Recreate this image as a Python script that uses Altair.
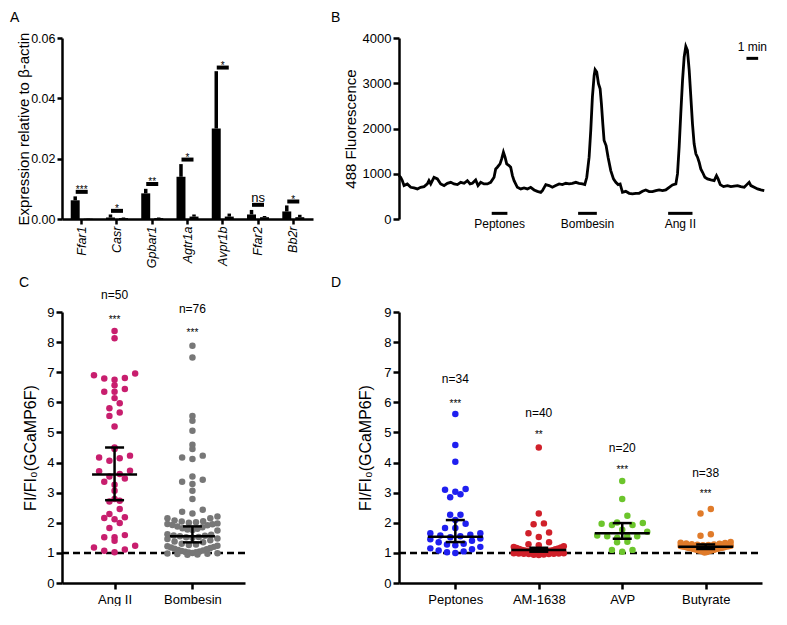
import json
import numpy as np
import pandas as pd
import altair as alt

FONT = "Liberation Sans"

# ---------------- Panel A: qPCR expression ----------------
genes = ["Ffar1", "Casr", "Gpbar1", "Agtr1a", "Avpr1b", "Ffar2", "Bb2r"]
cell_groups = ["positive", "negative"]
pos_mean = [0.0062, 0.0005, 0.0085, 0.0140, 0.0300, 0.0015, 0.0025]
pos_sem = [0.0013, 0.0010, 0.0015, 0.0042, 0.0190, 0.0015, 0.0020]
neg_mean = [0.0001, 0.0003, 0.0003, 0.0008, 0.0008, 0.0006, 0.0006]
neg_sem = [0.0001, 0.0002, 0.0002, 0.0007, 0.0010, 0.0004, 0.0008]
sig_level = [0.0090, 0.0027, 0.0116, 0.0197, 0.0502, 0.0047, 0.0058]
sig_label = ["***", "*", "**", "*", "*", "ns", "*"]

# ---------------- Panel B: fluorescence trace ----------------
trace_t = [0, 0.14, 0.28, 0.43, 0.71, 1.0, 1.28, 1.57, 1.85, 2.14, 2.42, 2.56, 2.71, 2.99, 3.28,
           3.56, 3.85, 4.13, 4.42, 4.70, 4.99, 5.27, 5.56, 5.84, 6.07, 6.27, 6.55, 6.75, 6.98, 7.26,
           7.55, 7.83, 8.12, 8.26, 8.40, 8.63, 8.77, 8.92, 9.06, 9.20, 9.40, 9.54, 9.69, 9.83, 10.11,
           10.40, 10.68, 10.97, 11.25, 11.54, 11.82, 12.11, 12.25, 12.54, 12.82, 13.10, 13.39, 13.68,
           13.96, 14.25, 14.53, 14.81, 15.10, 15.38,
           15.67, 15.87, 16.04, 16.24, 16.38, 16.52, 16.67, 16.75, 16.89, 17.04, 17.18, 17.29, 17.41,
           17.52, 17.69, 17.86, 18.09, 18.32, 18.52, 18.72, 18.89, 19.09, 19.37, 19.66, 19.94, 20.23,
           20.51, 20.80, 21.08, 21.37, 21.65, 21.94, 22.22, 22.51, 22.79, 23.08, 23.36, 23.65, 23.79,
           23.93, 24.07, 24.22, 24.36, 24.50, 24.64, 24.79, 24.93, 25.07, 25.21, 25.36, 25.50, 25.64,
           25.78, 25.93, 26.13, 26.35, 26.64, 26.92, 27.12, 27.26, 27.44, 27.72, 28.06, 28.35, 28.63,
           28.92, 29.20, 29.49, 29.71, 29.91, 30.06, 30.34, 30.63, 30.91, 31.20]
trace_f = [959, 922, 848, 738, 775, 701, 686, 664, 701, 715, 775, 848, 775, 922, 885,
           775, 738, 789, 811, 775, 760, 811, 789, 848, 775, 789, 863, 738, 811, 775,
           775, 811, 922, 1107, 1144, 1218, 1328, 1476, 1365, 1218, 1181, 1144, 959, 848, 701,
           664, 686, 664, 701, 642, 612, 590, 627, 760, 738, 701, 738, 775,
           760, 789, 775, 789, 811, 789,
           775, 760, 922, 1366, 1956, 2694, 3174, 3300, 3247, 2990, 2879, 2548, 2104,
           1735, 1624, 1366, 1070, 886, 812, 760, 775, 590, 612, 568, 554, 568,
           568, 612, 642, 605, 605, 627, 642, 627, 642, 701, 753, 775, 997,
           1587, 2326, 3063, 3580, 3816, 3728, 3285, 2694, 2104, 1661, 1440, 1366,
           1255, 1107, 1033, 922, 886, 864, 849, 959, 886, 760, 716, 738, 716, 727,
           738, 716, 701, 760, 812, 738, 701, 664, 642, 627]
stim_names = ["Peptones", "Bombesin", "Ang II"]
stim_start = [7.92, 15.30, 22.99]
stim_end = [9.26, 16.90, 25.07]
scalebar_start = [29.68]
scalebar_end = [30.68]

# ---------------- Panel C ----------------
c_cats = ["Ang II", "Bombesin"]
c_colors = ["#c81e6e", "#777777"]
angII_vals = [8.37, 8.13, 6.96, 6.90, 6.81, 6.79, 6.75, 6.57, 6.44, 6.35, 6.35, 6.14, 5.97, 5.80,
              5.66, 5.55, 5.20, 4.50, 4.45, 4.23, 4.17, 4.14, 4.06, 3.73, 3.71, 3.62, 3.54, 3.47,
              3.36, 3.26, 3.06, 2.79, 2.73, 2.71, 2.46, 2.29, 2.18, 2.16, 2.12, 1.99, 1.83, 1.59,
              1.52, 1.52, 1.40, 1.24, 1.18, 1.11, 1.07, 1.02]
bombesin_vals = [7.88, 7.49, 5.55, 5.39, 5.06, 4.59, 4.45, 4.23, 4.17, 4.12, 3.54, 3.43, 3.36,
                 3.29, 3.06, 2.79, 2.43, 2.37, 2.31, 2.21, 2.15, 2.15,
                 2.08, 2.05, 2.04, 2.02, 2.00, 1.98, 1.96, 1.95, 1.93, 1.92,
                 1.88, 1.85, 1.82, 1.80, 1.78, 1.76, 1.74,
                 1.62, 1.60, 1.58, 1.57, 1.55, 1.53, 1.52, 1.50, 1.48, 1.46,
                 1.42, 1.38, 1.35,
                 1.30, 1.28, 1.26, 1.24, 1.22, 1.20, 1.18, 1.16, 1.14, 1.12,
                 1.10, 1.08, 1.06, 1.05, 1.04, 1.02, 1.01, 1.00, 0.99, 0.98, 0.97, 0.96, 0.95, 0.94]
c_mean = [3.60, 1.55]
c_lo = [2.75, 1.35]
c_hi = [4.50, 1.88]
c_n = ["n=50", "n=76"]
c_n_y = [9.55, 9.10]
c_star = ["***", "***"]
c_star_y = [8.85, 8.40]

# ---------------- Panel D ----------------
d_cats = ["Peptones", "AM-1638", "AVP", "Butyrate"]
d_colors = ["#1f1ff0", "#d0202a", "#6cc52c", "#e07b2a"]
peptones_vals = [5.61, 4.58, 4.03, 3.12, 3.10, 3.03, 2.95, 2.85, 2.27, 2.27, 2.09, 1.97, 1.83, 1.83,
                 1.65, 1.65, 1.60, 1.58, 1.55, 1.52, 1.48, 1.45, 1.40, 1.35, 1.30, 1.28, 1.25, 1.20,
                 1.15, 1.12, 1.08, 1.05, 1.02, 1.00]
am1638_vals = [4.50, 2.31, 1.98, 1.95, 1.68, 1.65, 1.53, 1.35, 1.29,
               1.25, 1.22, 1.20, 1.18, 1.16, 1.15, 1.13, 1.12, 1.10, 1.09, 1.08, 1.07, 1.06, 1.05,
               1.04, 1.03, 1.02, 1.01, 1.00, 1.00, 0.99, 0.99, 0.98, 0.98, 0.97, 0.97, 0.96, 0.96,
               0.95, 0.94, 0.93]
avp_vals = [3.39, 2.79, 2.23, 2.01, 1.99, 1.97, 1.93, 1.93, 1.77, 1.70, 1.58, 1.55, 1.55, 1.55,
            1.50, 1.37, 1.35, 1.10, 1.10, 1.04]
butyrate_vals = [2.46, 2.31, 1.62, 1.57, 1.36, 1.34, 1.33, 1.31, 1.30, 1.29, 1.28, 1.27, 1.26,
                 1.25, 1.24, 1.23, 1.22, 1.21, 1.21, 1.20, 1.19, 1.18, 1.17, 1.16, 1.16, 1.15,
                 1.14, 1.13, 1.12, 1.11, 1.10, 1.09, 1.08, 1.07, 1.06, 1.05, 1.03, 1.01]
d_mean = [1.54, 1.10, 1.65, 1.20]
d_lo = [1.36, 1.04, 1.47, 1.13]
d_hi = [2.09, 1.17, 1.99, 1.28]
d_n = ["n=34", "n=40", "n=20", "n=38"]
d_n_y = [6.79, 5.63, 4.48, 3.65]
d_star = ["***", "**", "***", "***"]
d_star_y = [6.05, 5.00, 3.84, 3.04]


# ---------------- helpers ----------------
def row_scatter_offsets(vals, bin_h, s_max, half_max):
    """Prism-style column scatter: values binned into rows, each row spread center-out."""
    vals = np.asarray(vals, float)
    bins = np.floor(vals / bin_h).astype(int)
    out = np.zeros(len(vals))
    for b in np.unique(bins):
        idx = np.where(bins == b)[0]
        idx = idx[np.argsort(vals[idx], kind="stable")]
        n = len(idx)
        if n == 1:
            continue
        s = min(s_max, 2 * half_max / (n - 1))
        slots = [(k - (n - 1) / 2) * s for k in range(n)]
        slots.sort(key=lambda v: (round(abs(v), 6), v))
        for j, i in enumerate(idx):
            out[i] = slots[j]
    return out


def letter_layer(letter, dx, dy):
    return alt.Chart(pd.DataFrame({"t": [letter]})).mark_text(
        align="left", baseline="top", fontSize=14, font=FONT, color="black"
    ).encode(x=alt.value(dx), y=alt.value(dy), text="t:N")


def dot_panel(cats, colors, series, means, lo, hi, n_txt, n_y, star_txt, star_y,
              width, height, letter, letter_dx, mean_w, title_pad):
    pad = 0.675
    ncat = len(cats)
    step_px = width / (ncat - 1 + 2 * pad)
    unit_px = height / 9.0
    rows = []
    for i, (c, col, vals) in enumerate(zip(cats, colors, series)):
        offs = row_scatter_offsets(vals, 7.5 / unit_px, 10.3, 25)
        for v, o in zip(vals, offs):
            rows.append({"cat": c, "col": col, "val": v, "xpos": i + o / step_px})
    pts = pd.DataFrame(rows)
    summ = pd.DataFrame({"cat": cats, "xi": list(range(ncat)), "mean": means, "lo": lo, "hi": hi,
                         "n": n_txt, "ny": n_y, "star": star_txt, "sy": star_y})
    xscale = alt.Scale(domain=[-pad, ncat - 1 + pad], nice=False, zero=False)
    xaxis = alt.Axis(values=list(range(ncat)), labelExpr=f"{json.dumps(cats)}[datum.value]",
                     title=None, labelFontSize=13, tickSize=6, labelPadding=4, grid=False)
    yscale = alt.Scale(domain=[0, 9], nice=False)
    yaxis = alt.Axis(values=list(range(10)), title="FI/FI\u2080(GCaMP6F)", titleFontSize=16,
                     labelFontSize=13, tickSize=6, titlePadding=title_pad, format="d")
    X = lambda f: alt.X(f, scale=xscale, axis=xaxis)
    Y = lambda f: alt.Y(f, scale=yscale, axis=yaxis)

    dashed = alt.Chart(pd.DataFrame({"y": [1]})).mark_rule(
        strokeDash=[7, 4], strokeWidth=2.5, color="black"
    ).encode(y=Y("y:Q"), x=alt.value(0), x2=alt.value(width))
    dots = alt.Chart(pts).mark_circle(size=42, opacity=1).encode(
        x=X("xpos:Q"), y=Y("val:Q"), color=alt.Color("col:N", scale=None))
    mean_t = alt.Chart(summ).mark_tick(orient="horizontal", size=mean_w, thickness=2.5,
                                       opacity=1, color="black").encode(x=X("xi:Q"), y=Y("mean:Q"))
    err = alt.Chart(summ).mark_rule(strokeWidth=2.5, color="black").encode(
        x=X("xi:Q"), y=Y("lo:Q"), y2="hi:Q")
    cap_lo = alt.Chart(summ).mark_tick(orient="horizontal", size=19, thickness=2.5, opacity=1,
                                       color="black").encode(x=X("xi:Q"), y=Y("lo:Q"))
    cap_hi = alt.Chart(summ).mark_tick(orient="horizontal", size=19, thickness=2.5, opacity=1,
                                       color="black").encode(x=X("xi:Q"), y=Y("hi:Q"))
    ntext = alt.Chart(summ).mark_text(fontSize=12, font=FONT, baseline="middle",
                                      color="black").encode(x=X("xi:Q"), y=Y("ny:Q"), text="n:N")
    stext = alt.Chart(summ).mark_text(fontSize=10, font=FONT, baseline="alphabetic", dy=6,
                                      color="black").encode(x=X("xi:Q"), y=Y("sy:Q"), text="star:N")
    return alt.layer(dashed, dots, mean_t, err, cap_lo, cap_hi, ntext, stext,
                     letter_layer(letter, letter_dx, -36)).properties(width=width, height=height)


# ---------------- Panel A chart ----------------
dfA = pd.DataFrame({
    "gene": genes * 2,
    "group": [cell_groups[0]] * len(genes) + [cell_groups[1]] * len(genes),
    "mean": pos_mean + neg_mean,
    "sem": pos_sem + neg_sem,
})
dfA["top"] = dfA["mean"] + dfA["sem"]
dfSig = pd.DataFrame({"gene": genes, "level": sig_level, "label": sig_label})

xA = alt.X("gene:N", sort=genes,
           scale=alt.Scale(domain=genes, paddingInner=0.376, paddingOuter=0.247),
           axis=alt.Axis(title=None, labelAngle=-90, labelFontStyle="italic", labelFontSize=12.5,
                         tickSize=5, labelPadding=2))
xoffA = alt.XOffset("group:N", sort=cell_groups,
                    scale=alt.Scale(domain=cell_groups, paddingInner=0.31, paddingOuter=0))
yscaleA = alt.Scale(domain=[0, 0.06], nice=False)
yaxisA = alt.Axis(values=[0, 0.02, 0.04, 0.06], format=".2f", title="Expression relative to \u03b2-actin",
                  titleFontSize=15, labelFontSize=12.5, tickSize=5, titlePadding=-1)
YA = lambda f: alt.Y(f, scale=yscaleA, axis=yaxisA)

barsA = alt.Chart(dfA).mark_bar(color="black").encode(x=xA, xOffset=xoffA, y=YA("mean:Q"))
errA = alt.Chart(dfA).mark_rule(color="black", strokeWidth=3.5).encode(
    x=xA, xOffset=xoffA, y=YA("mean:Q"), y2="top:Q")
sigA = alt.Chart(dfSig).mark_tick(orient="horizontal", size=12, thickness=4, opacity=1,
                                  color="black").encode(x=xA, y=YA("level:Q"))
starsA = alt.Chart(dfSig).transform_filter("datum.label != 'ns'").mark_text(
    fontSize=10, font=FONT, baseline="alphabetic", dy=1, color="black").encode(
    x=xA, y=YA("level:Q"), text="label:N")
nsA = alt.Chart(dfSig).transform_filter("datum.label == 'ns'").mark_text(
    fontSize=13, font=FONT, baseline="alphabetic", dy=-3, color="black").encode(
    x=xA, y=YA("level:Q"), text="label:N")
panelA = alt.layer(barsA, errA, sigA, starsA, nsA, letter_layer("A", -52, -27)).properties(
    width=251, height=181)

# ---------------- Panel B chart ----------------
dfB = pd.DataFrame({"t": trace_t, "f": trace_f})
dfStim = pd.DataFrame({"name": stim_names, "start": stim_start, "end": stim_end})
dfStim["mid"] = (dfStim["start"] + dfStim["end"]) / 2
dfStim["bar_y"] = 125
dfStim["lab_y"] = -120
dfScale = pd.DataFrame({"start": scalebar_start, "end": scalebar_end, "label": ["1 min"]})
dfScale["mid"] = (dfScale["start"] + dfScale["end"]) / 2
dfScale["bar_y"] = 3550
dfScale["lab_y"] = 3800

xscaleB = alt.Scale(domain=[0, 31.35], nice=False, zero=False)
yscaleB = alt.Scale(domain=[0, 4000], nice=False)
yaxisB = alt.Axis(values=[0, 1000, 2000, 3000, 4000], format="d", title="488 Fluorescence",
                  titleFontSize=15, labelFontSize=13, tickSize=6, titlePadding=4)
XB = lambda f: alt.X(f, scale=xscaleB, axis=None)
YB = lambda f: alt.Y(f, scale=yscaleB, axis=yaxisB)

lineB = alt.Chart(dfB).mark_line(color="black", strokeWidth=2.8).encode(x=XB("t:Q"), y=YB("f:Q"))
stimBar = alt.Chart(dfStim).mark_rule(color="black", strokeWidth=3).encode(
    x=XB("start:Q"), x2="end:Q", y=YB("bar_y:Q"))
stimLab = alt.Chart(dfStim).mark_text(fontSize=12, font=FONT, baseline="middle", color="black").encode(
    x=XB("mid:Q"), y=YB("lab_y:Q"), text="name:N")
scaleBar = alt.Chart(dfScale).mark_rule(color="black", strokeWidth=3).encode(
    x=XB("start:Q"), x2="end:Q", y=YB("bar_y:Q"))
scaleLab = alt.Chart(dfScale).mark_text(fontSize=12, font=FONT, baseline="middle", color="black").encode(
    x=XB("mid:Q"), y=YB("lab_y:Q"), text="label:N")
panelB = alt.layer(lineB, stimBar, stimLab, scaleBar, scaleLab,
                   letter_layer("B", -68, -27)).properties(width=367, height=181)

# ---------------- Panels C, D ----------------
panelC = dot_panel(c_cats, c_colors, [angII_vals, bombesin_vals], c_mean, c_lo, c_hi,
                   c_n, c_n_y, c_star, c_star_y, 183, 271, "C", -43, 45, 8)
panelD = dot_panel(d_cats, d_colors, [peptones_vals, am1638_vals, avp_vals, butyrate_vals],
                   d_mean, d_lo, d_hi, d_n, d_n_y, d_star, d_star_y, 363, 271, "D", -68, 55, 10)

chart = alt.concat(panelA, panelB, panelC, panelD, columns=2, align="each", bounds="full",
                   spacing={"row": 8, "column": 18}).properties(
    padding={"left": 2, "top": 3, "right": 0, "bottom": 0}
).configure_axis(
    domainColor="black", domainWidth=2.5, tickColor="black", tickWidth=2.5,
    labelColor="black", titleColor="black", labelFont=FONT, titleFont=FONT,
    titleFontWeight="normal", grid=False
).configure_view(stroke=None).configure_text(font=FONT)

chart.save("out.html", embed_options={"renderer": "svg", "actions": False})
